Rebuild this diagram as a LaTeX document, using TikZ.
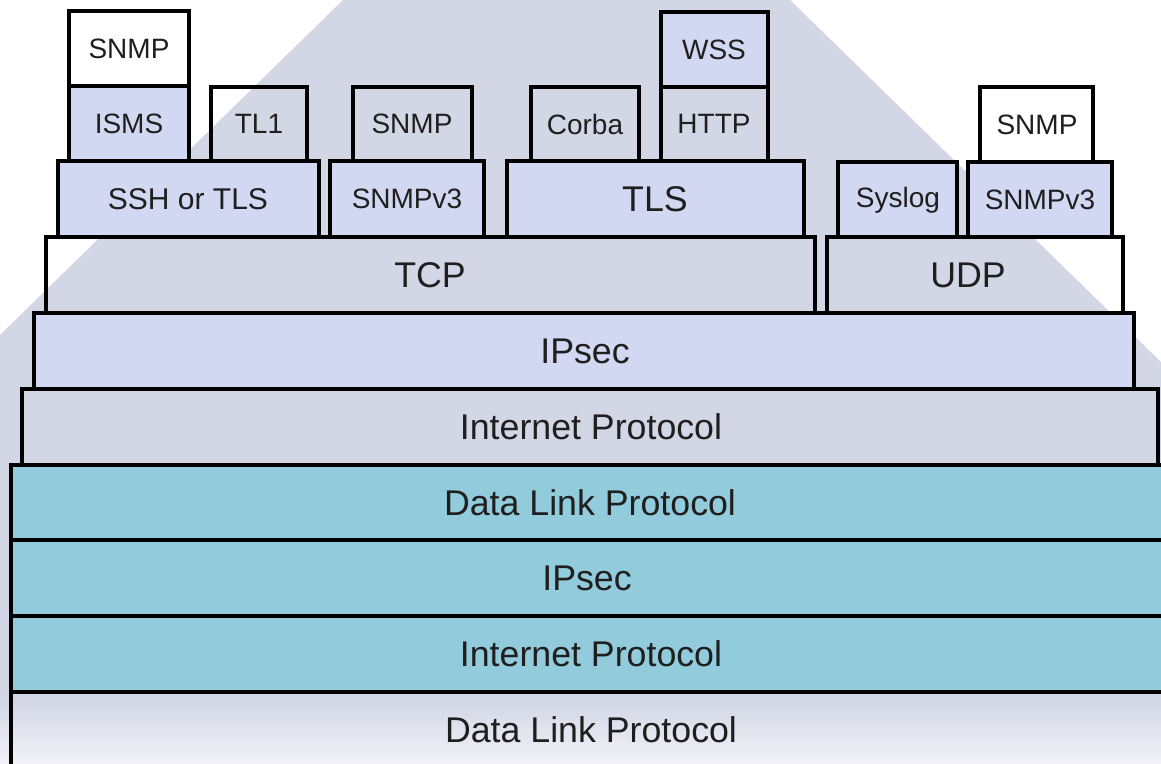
\documentclass[tikz,border=0pt]{standalone}
\usepackage{fontspec}
\setmainfont{Liberation Sans}

\definecolor{bggray}{RGB}{211,215,229}
\definecolor{bgfade}{RGB}{242,241,248}
\definecolor{mottle}{RGB}{210,216,241}
\definecolor{tealband}{RGB}{146,203,219}

\tikzset{every picture/.style={line width=0.75pt}}
\tikzset{
	layer/.style={draw=black, line width=3pt},
	mottled/.style={layer, fill=mottle},
	band/.style={layer, fill=tealband},
	smalltxt/.style={font=\fontsize{21}{25}\selectfont, text=black!88},
	midtxt/.style={font=\fontsize{22.5}{27}\selectfont, text=black!88},
	bigtxt/.style={font=\fontsize{26.8}{31}\selectfont, text=black!88}
}

\begin{document}
\begin{tikzpicture}[x=0.75pt,y=0.75pt,yscale=-1,xscale=1]
	\useasboundingbox (0,0) rectangle (1161,764);
	\clip (0,0) rectangle (1161,764);

	%Background
	\fill [white] (0,0) rectangle (1161,764);
	\fill [bggray] (343,0) -- (790,0) -- (1161,362) -- (1161,764) -- (0,764) -- (0,335) -- cycle;
	\shade [top color=bggray, bottom color=bgfade] (0,700) rectangle (1161,764);

	%Shape: Rectangle -- bottom stack
	\draw [layer] (11,692) rectangle (1175,790);
	\draw [band] (11,616) rectangle (1175,692);
	\draw [band] (11,540) rectangle (1175,616);
	\draw [band] (11,465) rectangle (1175,540);
	%Shape: Rectangle -- network layer
	\draw [layer] (22,389) rectangle (1158,465);
	\draw [mottled] (34,313) rectangle (1134,389);
	%Shape: Rectangle -- transport layer
	\draw [layer] (46,237) rectangle (815,313);
	\draw [layer] (827,237) rectangle (1123,313);
	%Shape: Rectangle -- security layer
	\draw [mottled] (58,161) rectangle (319,237);
	\draw [mottled] (330,161) rectangle (484,237);
	\draw [mottled] (507,161) rectangle (804,237);
	\draw [mottled] (838,162) rectangle (957,237);
	\draw [mottled] (968,162) rectangle (1112,237);
	%Shape: Rectangle -- applications
	\draw [mottled] (69,86) rectangle (189,161);
	\draw [layer] (211,87) rectangle (307,161);
	\draw [layer] (353,87) rectangle (472,161);
	\draw [layer] (531,87) rectangle (639,161);
	\draw [layer] (661,87) rectangle (768,161);
	\draw [layer] (980,87) rectangle (1093,162);
	%Shape: Rectangle -- top row
	\draw [layer] (69,11) rectangle (189,86);
	\draw [mottled] (661,12) rectangle (768,87);

	% Text Node
	\draw (129,49) node [smalltxt] (snmpTop) {SNMP};
	% Text Node
	\draw (714,50) node [smalltxt] (wss) {WSS};
	% Text Node
	\draw (129,124) node [smalltxt] (isms) {ISMS};
	% Text Node
	\draw (259,124) node [smalltxt] (tlOne) {TL1};
	% Text Node
	\draw (412,124) node [smalltxt] (snmpMid) {SNMP};
	% Text Node
	\draw (585,124) node [smalltxt] (corba) {Corba};
	% Text Node
	\draw (714,124) node [smalltxt] (http) {HTTP};
	% Text Node
	\draw (1037,125) node [smalltxt] (snmpRight) {SNMP};
	% Text Node
	\draw (188,199) node [midtxt] (sshTls) {SSH or TLS};
	% Text Node
	\draw (407,199) node [smalltxt] (snmpvLeft) {SNMPv3};
	% Text Node
	\draw (655,199) node [bigtxt] (tls) {TLS};
	% Text Node
	\draw (898,200) node [smalltxt] (syslog) {Syslog};
	% Text Node
	\draw (1040,200) node [smalltxt] (snmpvRight) {SNMPv3};
	% Text Node
	\draw (430,275) node [bigtxt] (tcp) {TCP};
	% Text Node
	\draw (968,275) node [bigtxt] (udp) {UDP};
	% Text Node
	\draw (585,351) node [bigtxt] (ipsecTop) {IPsec};
	% Text Node
	\draw (591,427) node [bigtxt] (ipTop) {Internet Protocol};
	% Text Node
	\draw (590,503) node [bigtxt] (dlTop) {Data Link Protocol};
	% Text Node
	\draw (587,578) node [bigtxt] (ipsecLow) {IPsec};
	% Text Node
	\draw (591,654) node [bigtxt] (ipLow) {Internet Protocol};
	% Text Node
	\draw (591,730) node [bigtxt] (dlLow) {Data Link Protocol};

\end{tikzpicture}
\end{document}
